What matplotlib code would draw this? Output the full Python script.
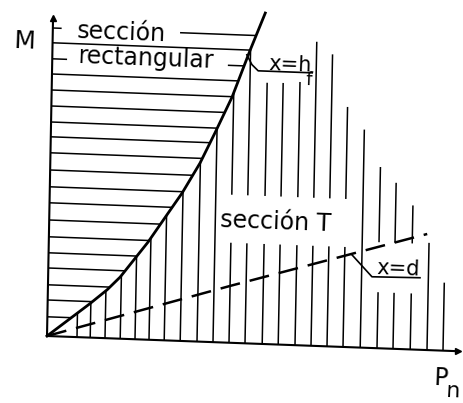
import numpy as np
import matplotlib
matplotlib.use("Agg")
import matplotlib.pyplot as plt
import matplotlib.transforms as mtransforms
from matplotlib.collections import LineCollection

# curve x = h_f  (Pn, M)
hf_pn = [0.0, 1.06, 1.48, 1.80, 2.48, 2.94, 3.31, 3.74, 4.10, 4.51, 4.94, 5.30]
hf_m = [0.0, 0.85, 1.21, 1.54, 2.44, 3.14, 3.70, 4.46, 5.23, 6.14, 7.33, 8.27]

# straight line x = d
d_pn = [0.0, 4.55, 9.45]
d_m = [0.0, 1.42, 2.90]

# horizontal hatching (rectangular section zone), one row per M level
rows_m = [7.70, 7.33, 6.93, 6.55, 6.15, 5.75, 5.35, 4.98, 4.58, 4.15,
          3.73, 3.33, 2.90, 2.48, 2.08, 1.70, 1.28, 0.90, 0.48]

# vertical hatching (T section zone); nan = line runs up to the h_f curve
cols_pn = [0.75, 1.08, 1.45, 1.83, 2.20, 2.55, 2.93, 3.33, 3.75, 4.15, 4.55, 4.95,
           5.38, 5.78, 6.20, 6.60, 7.00, 7.40, 7.83, 8.25, 8.65, 9.08, 9.50, 9.90]
cols_top = [np.nan] * 12 + [6.53, 6.54, 6.58, 7.60, 7.30, 6.00, 5.45, 4.53,
                            4.15, 3.60, 2.68, 1.70]

pn_max, m_max = 10.28, 7.95

fig = plt.figure(figsize=(4.63, 4.03), dpi=100)
ax = fig.add_axes([0, 0, 1, 1])
ax.set_xlim(0, 463)
ax.set_ylim(403, 0)
ax.axis("off")

# sheet frame: 40 px per unit, slightly skewed
S = 40.0
page = mtransforms.Affine2D(np.array([[S, 0.019 * S, 47.0],
                                      [0.037 * S, -S, 336.0],
                                      [0.0, 0.0, 1.0]]))
tr = page + ax.transData
ang = -2.1

# gaps left for the lettering
row_gaps = {0: (0.22, 3.18), 2: (0.37, 4.39)}
col_gaps = [(4.35, 7.63, 2.50, 3.70),   # "sección T"
            (8.00, 9.30, 1.40, 2.65)]   # "x=d"

segs = []
for i, m in enumerate(rows_m):
    end = np.interp(m, hf_m, hf_pn)
    if i in row_gaps:
        a, b = row_gaps[i]
        segs += [[(0, m), (a, m)], [(b, m), (end, m)]]
    else:
        segs.append([(0, m), (end, m)])

for p, top in zip(cols_pn, cols_top):
    if np.isnan(top):
        top = np.interp(p, hf_pn, hf_m)
    pieces = [(0.0, top)]
    for u0, u1, lo, hi in col_gaps:
        if u0 < p < u1:
            pieces = [(0.0, lo), (hi, top)]
    for lo, hi in pieces:
        segs.append([(p, lo), (p, hi)])

ax.add_collection(LineCollection(segs, colors="black", linewidths=1.1,
                                 transform=tr))

# axes
ax.plot([0, 0], [0, m_max], color="black", lw=1.5, transform=tr)
ax.plot([0, pn_max], [0, 0], color="black", lw=1.5, transform=tr)
ax.plot([0], [m_max], marker="^", ms=5, color="black", transform=tr)
ax.plot([pn_max], [0], marker=">", ms=5, color="black", transform=tr)

# limit curves
ax.plot(hf_pn, hf_m, color="black", lw=2.0, transform=tr, zorder=3)
ax.plot(d_pn, d_m, color="black", lw=1.8, dashes=(8, 4), transform=tr,
        zorder=3)

# leaders
ax.plot([4.86, 4.99, 5.15, 6.50], [7.21, 6.97, 6.82, 6.82], color="black",
        lw=1.2, transform=tr)
ax.plot([7.58, 8.09, 9.29], [2.31, 1.78, 1.80], color="black", lw=1.2,
        transform=tr)

txt = dict(transform=tr, rotation=ang, rotation_mode="anchor",
           ha="left", va="baseline", color="black", family="DejaVu Sans")
ax.text(0.61, 7.48, "sección", fontsize=17, **txt)
ax.text(0.645, 6.85, "rectangular", fontsize=17, **txt)
ax.text(4.27, 2.885, "sección T", fontsize=17, **txt)
ax.text(5.40, 6.84, "x=h", fontsize=15, **txt)
ax.text(6.33, 6.52, "f", fontsize=13, **txt)
ax.text(8.21, 1.85, "x=d", fontsize=15, **txt)
ax.text(-0.98, 7.17, "M", fontsize=18, **txt)
ax.text(9.69, -0.87, "P", fontsize=17, **txt)
ax.text(10.0, -1.16, "n", fontsize=16, **txt)

fig.savefig("out.png", dpi=100, facecolor="white")
